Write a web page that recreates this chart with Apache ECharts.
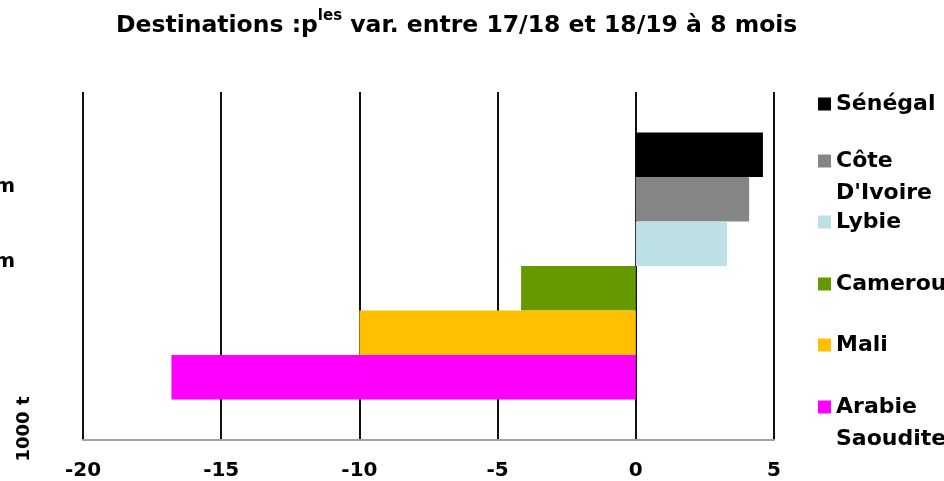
<!DOCTYPE html>
<html>
<head>
<meta charset="utf-8">
<script src="https://cdn.jsdelivr.net/npm/echarts@6/dist/echarts.min.js"></script>
<style>html,body{margin:0;padding:0;background:#fff}#c{width:944px;height:481px}</style>
</head>
<body>
<div id="c"></div>
<script>
const countries = ['Sénégal', "Côte D'Ivoire", 'Lybie', 'Cameroun', 'Mali', 'Arabie Saoudite'];
const legendLabels = ['Sénégal', " \nCôte\nD'Ivoire", 'Lybie', 'Cameroun', 'Mali', ' \nArabie\nSaoudite'];
const values = [4.6, 4.1, 3.3, -4.15, -10.0, -16.8];
const colors = ['#000000', '#858585', '#bde0e4', '#669900', '#ffc000', '#ff00ff'];
const xTicks = [-20, -15, -10, -5, 0, 5];
const categories = ['1000 t'];

const FONT = 'DejaVu Sans';
const chart = echarts.init(document.getElementById('c'), null, {renderer: 'canvas'});

const iconCenters = [104, 161, 222, 284, 345, 407];
const legends = countries.map((name, i) => {
  const threeLine = legendLabels[i].indexOf('\n') >= 0;
  return {
    left: 818,
    top: threeLine ? iconCenters[i] - 48 : iconCenters[i] - 12,
    padding: 0,
    orient: 'vertical',
    icon: 'rect',
    itemWidth: 13,
    itemHeight: 13,
    selectedMode: false,
    data: [name],
    formatter: () => legendLabels[i],
    textStyle: {
      fontFamily: FONT, fontWeight: 'bold', fontSize: 22, color: '#000',
      lineHeight: threeLine ? 32 : 24
    }
  };
});

chart.setOption({
  animation: false,
  title: {
    text: '{a|Destinations :p}{s|les}{a| var. entre 17/18 et 18/19 à 8 mois}',
    left: 116, top: 9,
    padding: 0,
    textStyle: {
      rich: {
        a: {fontFamily: FONT, fontWeight: 'bold', fontSize: 23.5, color: '#000', lineHeight: 34},
        s: {fontFamily: FONT, fontWeight: 'bold', fontSize: 15, color: '#000', verticalAlign: 'top', lineHeight: 34, padding: [0, 0, 8, 0]}
      }
    }
  },
  legend: legends,
  grid: {left: 83, right: 170, top: 92, bottom: 41, containLabel: false, outerBoundsMode: 'none'},
  xAxis: {
    type: 'value', min: -20, max: 5, interval: 5,
    axisLine: {show: true, lineStyle: {color: '#a0a0a0', width: 2}},
    axisTick: {show: false},
    axisLabel: {
      fontFamily: FONT, fontWeight: 'bold', fontSize: 20, color: '#000', margin: 21,
      formatter: v => xTicks.indexOf(v) >= 0 ? String(v) : ''
    },
    splitLine: {show: true, lineStyle: {color: '#111', width: 2}}
  },
  yAxis: {
    type: 'category', data: categories,
    axisLine: {show: false}, axisTick: {show: false}, axisLabel: {show: false},
    splitLine: {show: false}
  },
  series: countries.map((name, i) => ({
    name: name,
    type: 'bar',
    data: [values[i]],
    barWidth: 44.5,
    barGap: '0%',
    itemStyle: {color: colors[i]}
  })),
  graphic: [
    {type: 'text', x: 15, y: 187, style: {text: 'm', font: 'bold 20px "DejaVu Sans"', fill: '#000', align: 'right', verticalAlign: 'middle'}},
    {type: 'text', x: 15, y: 262, style: {text: 'm', font: 'bold 20px "DejaVu Sans"', fill: '#000', align: 'right', verticalAlign: 'middle'}},
    {type: 'text', x: 24, y: 429, rotation: Math.PI / 2, style: {text: '1000 t', font: 'bold 18px "DejaVu Sans"', fill: '#000', align: 'center', verticalAlign: 'middle'}}
  ]
});
</script>
</body>
</html>
